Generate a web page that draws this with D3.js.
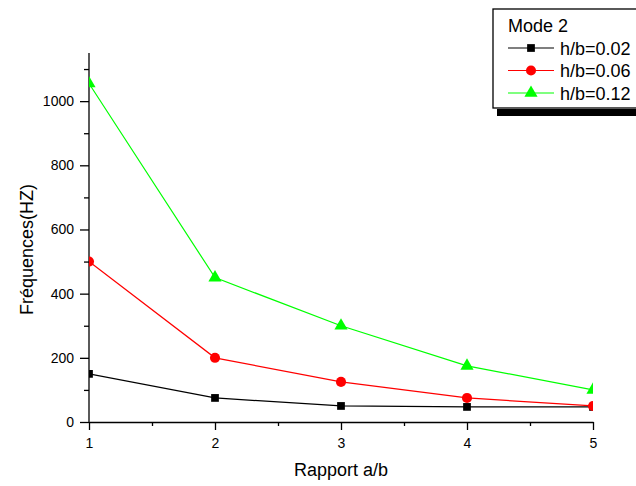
<!DOCTYPE html>
<html>
<head>
<meta charset="utf-8">
<script src="https://d3js.org/d3.v7.min.js"></script>
<style>
  body { margin: 0; background: #fff; }
  svg { font-family: "Liberation Sans", Arial, sans-serif; }
</style>
</head>
<body>
<div id="chart"></div>
<script>
// data
var ratios = [1, 2, 3, 4, 5];
var hb002 = [150, 75, 50, 47, 47];
var hb006 = [500, 200, 125, 75, 50];
var hb012 = [1055, 450, 300, 175, 100];
var seriesNames = ["h/b=0.02", "h/b=0.06", "h/b=0.12"];
var xTicks = [1, 2, 3, 4, 5];
var yTicks = [0, 200, 400, 600, 800, 1000];

var width = 636,
    height = 486;

// plot frame (note: "top" is reserved on window, so use other names)
var pLeft = 89, pRight = 593, pTop = 53, pBottom = 422;

var svg = d3.select("#chart").append("svg")
    .attr("width", width)
    .attr("height", height);

var x = d3.scaleLinear().domain([1, 5]).range([pLeft, pRight]);
var y = d3.scaleLinear().domain([0, 1150]).range([pBottom, pTop]);

svg.append("defs").append("clipPath")
    .attr("id", "plotclip")
  .append("rect")
    .attr("x", pLeft)
    .attr("y", pTop - 10)
    .attr("width", pRight - pLeft)
    .attr("height", pBottom - pTop + 10);

// minor ticks first
svg.append("g")
    .attr("transform", "translate(0," + pBottom + ")")
    .call(d3.axisBottom(x).tickValues([1.5, 2.5, 3.5, 4.5]).tickSize(4).tickFormat(""))
    .call(function(g) { g.select(".domain").remove(); });

svg.append("g")
    .attr("transform", "translate(" + pLeft + ",0)")
    .call(d3.axisLeft(y).tickValues([100, 300, 500, 700, 900, 1100]).tickSize(5).tickFormat(""))
    .call(function(g) { g.select(".domain").remove(); });

svg.append("g")
    .attr("transform", "translate(0," + pBottom + ")")
    .call(d3.axisBottom(x).tickValues(xTicks).tickSize(8).tickSizeOuter(0).tickPadding(8).tickFormat(d3.format("d")));

var yAxis = svg.append("g")
    .attr("transform", "translate(" + pLeft + ",0)")
    .call(d3.axisLeft(y).tickValues(yTicks).tickSize(9).tickSizeOuter(0).tickPadding(6).tickFormat(d3.format("d")));

// stretch y domain line to the top of the frame
yAxis.select(".domain").attr("d", "M0," + pBottom + "V" + pTop);

svg.selectAll(".tick text")
    .attr("font-size", 14)
    .attr("font-family", "Liberation Sans, Arial, sans-serif")
    .attr("fill", "#000");
svg.selectAll(".domain, .tick line").attr("stroke", "#000").attr("stroke-width", 1.3);

svg.append("text")
    .attr("x", (pLeft + pRight) / 2)
    .attr("y", 476)
    .attr("text-anchor", "middle")
    .style("font-size", "18px")
    .text("Rapport a/b");

svg.append("text")
    .attr("transform", "translate(33," + ((pTop + pBottom) / 2 + 12) + ")rotate(-90)")
    .attr("text-anchor", "middle")
    .style("font-size", "18px")
    .text("Fréquences(HZ)");

var series = [
  { name: seriesNames[0], values: hb002, color: "#000000", shape: d3.symbolSquare, size: 60 },
  { name: seriesNames[1], values: hb006, color: "#ff0000", shape: d3.symbolCircle, size: 80 },
  { name: seriesNames[2], values: hb012, color: "#00ff00", shape: d3.symbolTriangle, size: 75 }
];

var line = d3.line()
    .x(function(d, i) { return x(ratios[i]); })
    .y(function(d) { return y(d); });

var plot = svg.append("g").attr("clip-path", "url(#plotclip)");

series.forEach(function(s) {
  plot.append("path")
      .datum(s.values)
      .attr("d", line)
      .attr("fill", "none")
      .attr("stroke", s.color)
      .attr("stroke-width", 1.2);

  plot.selectAll(null)
      .data(s.values)
    .enter().append("path")
      .attr("transform", function(d, i) { return "translate(" + x(ratios[i]) + "," + y(d) + ")"; })
      .attr("d", d3.symbol().type(s.shape).size(s.size))
      .attr("fill", s.color);
});

// legend box with shadow
var lg = svg.append("g");
lg.append("rect")
    .attr("x", 497).attr("y", 109)
    .attr("width", 150).attr("height", 7)
    .attr("fill", "#000");
lg.append("rect")
    .attr("x", 493).attr("y", 9)
    .attr("width", 160).attr("height", 99)
    .attr("fill", "#fff")
    .attr("stroke", "#000")
    .attr("stroke-width", 1.3);
lg.append("text")
    .attr("x", 508).attr("y", 32)
    .style("font-size", "18px")
    .text("Mode 2");

series.forEach(function(s, i) {
  var ly = 48 + i * 22.5;
  lg.append("line")
      .attr("x1", 508).attr("x2", 554)
      .attr("y1", ly).attr("y2", ly)
      .attr("stroke", s.color)
      .attr("stroke-width", 1.2);
  lg.append("path")
      .attr("transform", "translate(531," + ly + ")")
      .attr("d", d3.symbol().type(s.shape).size(s.size))
      .attr("fill", s.color);
  lg.append("text")
      .attr("x", 560).attr("y", ly + 6.5)
      .style("font-size", "18px")
      .text(s.name);
});
</script>
</body>
</html>
